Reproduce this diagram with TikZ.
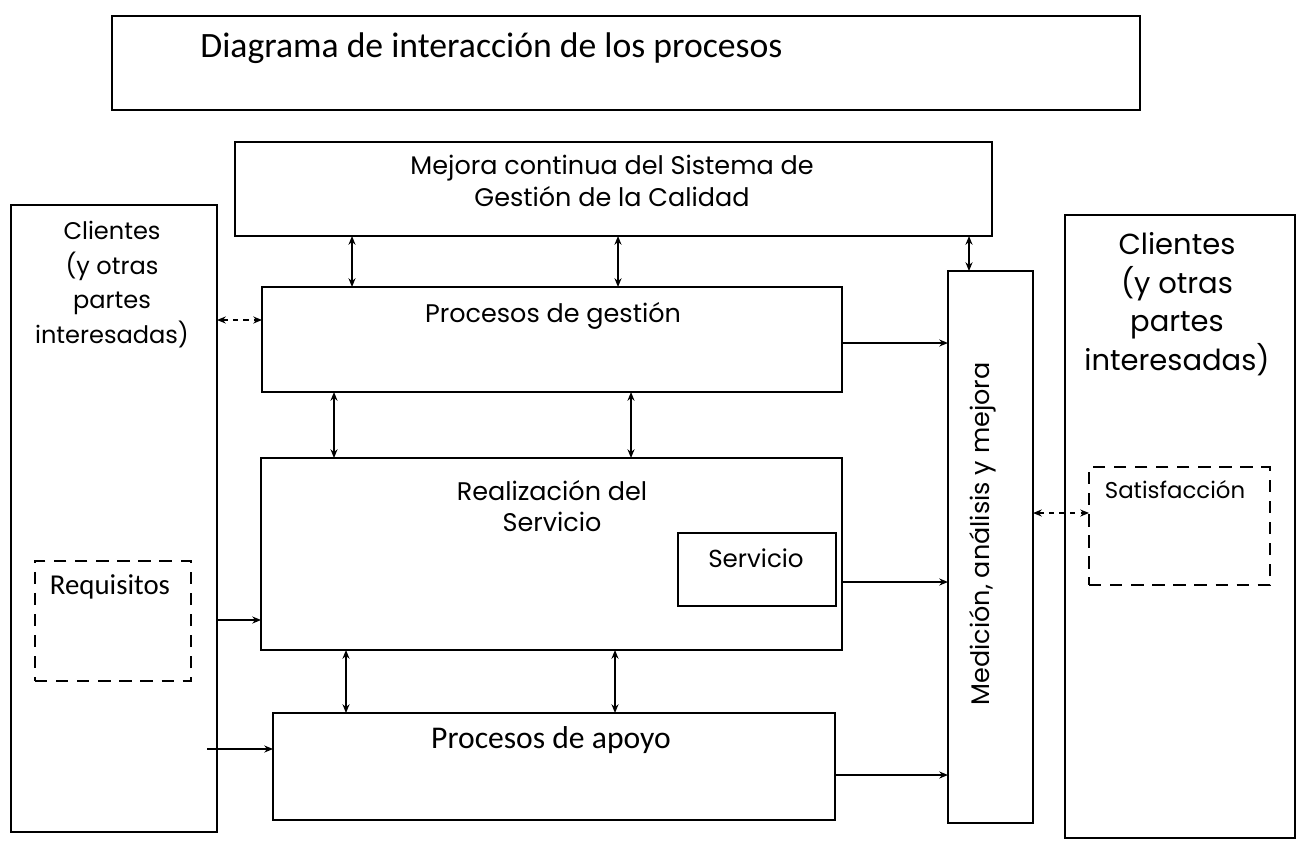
\documentclass[tikz,border=0pt]{standalone}
\usepackage{fontspec}
\setmainfont{Poppins}
\newfontfamily\carlito{Carlito}
\usepackage{tikz}
\usetikzlibrary{arrows.meta}
\pgfdeclarelayer{edgelayer}
\pgfdeclarelayer{nodelayer}
\pgfsetlayers{edgelayer,nodelayer,main}
\tikzstyle{box}=[rectangle, draw=black, line width=1.2pt, inner sep=0pt, outer sep=0pt]
\tikzstyle{dashbox}=[rectangle, draw=black, line width=1pt, dash pattern=on 7pt off 5pt, inner sep=0pt, outer sep=0pt]
\tikzstyle{txt}=[inner sep=0pt, align=center, font=\fontsize{14.5}{18}\selectfont]
\tikzstyle{edge}=[draw=black, line width=1pt, >={Stealth[length=5pt,width=4pt]}]

\begin{document}
\begin{tikzpicture}[x=0.02cm, y=-0.02cm]
			\useasboundingbox (0,0) rectangle (1297,842);
			\begin{pgfonlayer}{nodelayer}
			\node [style=box, minimum width=20.56cm, minimum height=1.88cm] (0) at (626, 63) {};
			\node [style=txt, anchor=west, font=\carlito\fontsize{20.3}{24}\selectfont] (t0) at (200, 48) {Diagrama de interacción de los procesos};
			\node [style=box, minimum width=15.14cm, minimum height=1.88cm] (1) at (613.5, 189) {};
			\node [style=txt] (t1) at (612, 181) {Mejora continua del Sistema de\\Gestión de la Calidad};
			\node [style=box, minimum width=4.12cm, minimum height=12.54cm] (2) at (114, 518.5) {};
			\node [style=txt, font=\fontsize{13.7}{19.8}\selectfont] (t2) at (112, 284.5) {Clientes\\(y otras\\partes\\interesadas)};
			\node [style=box, minimum width=11.6cm, minimum height=2.1cm] (3) at (552, 339.5) {};
			\node [style=txt] (t3) at (553, 316) {Procesos de gestión};
			\node [style=box, minimum width=11.62cm, minimum height=3.84cm] (4) at (551.5, 554) {};
			\node [style=txt] (t4) at (552, 506) {Realización del\\Servicio};
			\node [style=box, minimum width=3.16cm, minimum height=1.46cm] (5) at (757, 569.5) {};
			\node [style=txt, font=\fontsize{14}{18}\selectfont] (t5) at (756, 558) {Servicio};
			\node [style=dashbox, minimum width=3.12cm, minimum height=2.4cm] (6) at (113, 621) {};
			\node [style=txt, font=\carlito\fontsize{16.4}{18}\selectfont] (t6) at (110, 587) {Requisitos};
			\node [style=box, minimum width=11.24cm, minimum height=2.14cm] (7) at (554, 766.5) {};
			\node [style=txt, font=\carlito\fontsize{18}{20}\selectfont] (t7) at (551, 740) {Procesos de apoyo};
			\node [style=box, minimum width=1.7cm, minimum height=11.04cm] (8) at (990.5, 547) {};
			\node [style=txt, rotate=90] (t8) at (983, 534) {Medición, análisis y mejora};
			\node [style=box, minimum width=4.6cm, minimum height=12.46cm] (9) at (1180, 526.5) {};
			\node [style=txt, font=\fontsize{16.5}{22}\selectfont] (t9) at (1177, 304) {Clientes\\(y otras\\partes\\interesadas)};
			\node [style=dashbox, minimum width=3.62cm, minimum height=2.36cm] (10) at (1179.5, 526) {};
			\node [style=txt, font=\fontsize{13}{18}\selectfont] (t10) at (1175, 490) {Satisfacción};
			\coordinate (11) at (207, 749);
			\end{pgfonlayer}
			\begin{pgfonlayer}{edgelayer}
			\draw [style=edge, <->] (1.south -| 352,0) to (3.north -| 352,0);
			\draw [style=edge, <->] (1.south -| 618,0) to (3.north -| 618,0);
			\draw [style=edge, <->] (1.south -| 969,0) to (8.north -| 969,0);
			\draw [style=edge, <->, dashed] (2.east |- 0,320) to (3.west |- 0,320);
			\draw [style=edge, <->] (3.south -| 334,0) to (4.north -| 334,0);
			\draw [style=edge, <->] (3.south -| 631,0) to (4.north -| 631,0);
			\draw [style=edge, <->] (4.south -| 346,0) to (7.north -| 346,0);
			\draw [style=edge, <->] (4.south -| 615,0) to (7.north -| 615,0);
			\draw [style=edge, ->] (2.east |- 0,620) to (4.west |- 0,620);
			\draw [style=edge, ->] (11) to (7.west |- 11);
			\draw [style=edge, ->] (3.east |- 0,343) to (8.west |- 0,343);
			\draw [style=edge, ->] (4.east |- 0,582) to (8.west |- 0,582);
			\draw [style=edge, ->] (7.east |- 0,775) to (8.west |- 0,775);
			\draw [style=edge, <->, dashed] (8.east |- 0,513) to (10.west |- 0,513);
			\end{pgfonlayer}
\end{tikzpicture}
\end{document}
